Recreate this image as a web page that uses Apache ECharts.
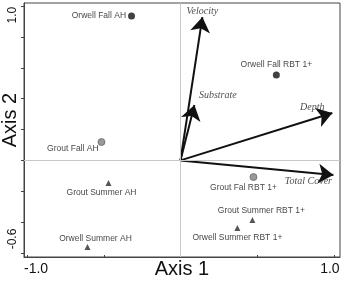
<!DOCTYPE html>
<html>
<head>
<meta charset="utf-8">
<script src="https://cdn.jsdelivr.net/npm/echarts@6/dist/echarts.min.js"></script>
<style>
html,body{margin:0;padding:0;background:#fff;}
#chart{width:344px;height:281px;}
</style>
</head>
<body>
<div id="chart"></div>
<script>
// ---- data ----
const siteNames = ['Orwell Fall AH', 'Orwell Fall RBT 1+', 'Grout Fall AH', 'Grout Fal RBT 1+',
                   'Grout Summer AH', 'Orwell Summer AH', 'Grout Summer RBT 1+', 'Orwell Summer RBT 1+'];
const siteGroup = ['orwellFall', 'orwellFall', 'groutFall', 'groutFall',
                   'summer', 'summer', 'summer', 'summer'];
const siteAxis1 = [-0.319, 0.625, -0.515, 0.476, -0.469, -0.606, 0.469, 0.371];
const siteAxis2 = [0.935, 0.553, 0.119, -0.108, -0.146, -0.561, -0.386, -0.438];

const vectorNames = ['Velocity', 'Substrate', 'Depth', 'Total Cover'];
const vectorAxis1 = [0.143, 0.091, 0.990, 0.997];
const vectorAxis2 = [0.929, 0.359, 0.307, -0.095];

const xTicks = [-1.0, -0.5, 0, 0.5, 1.0];
const xTickLabels = [-1.0, 1.0];
const yTicks = [-0.6, -0.4, -0.2, 0, 0.2, 0.4, 0.6, 0.8, 1.0];
const yTickLabels = [-0.6, 1.0];

// ---- label placement (layout only) ----
const siteLabelLayout = {
  'Orwell Fall AH': {position: 'left', distance: 2, offset: [0, 0]},
  'Orwell Fall RBT 1+': {position: 'top', distance: 2, offset: [0, 0]},
  'Grout Fall AH': {position: 'left', distance: -1, offset: [0, 7]},
  'Grout Fal RBT 1+': {position: 'bottom', distance: 2, offset: [-10, 0]},
  'Grout Summer AH': {position: 'bottom', distance: 2, offset: [-7, 0]},
  'Orwell Summer AH': {position: 'top', distance: 1, offset: [8, 0]},
  'Grout Summer RBT 1+': {position: 'top', distance: 2, offset: [9, 0]},
  'Orwell Summer RBT 1+': {position: 'bottom', distance: 2, offset: [0, 0]}
};
const vectorLabelLayout = {
  'Velocity': {position: 'top', distance: 0, offset: [0, 0]},
  'Substrate': {position: 'right', distance: 4, offset: [0, -10]},
  'Depth': {position: 'top', distance: 0, offset: [-20, 0]},
  'Total Cover': {position: 'bottom', distance: 1, offset: [-25, 0]}
};

function siteData(group) {
  const out = [];
  siteNames.forEach((n, i) => {
    if (siteGroup[i] !== group) return;
    const l = siteLabelLayout[n];
    out.push({
      name: n,
      value: [siteAxis1[i], siteAxis2[i]],
      label: {show: true, formatter: n, position: l.position, distance: l.distance, offset: l.offset}
    });
  });
  return out;
}

const siteLabelStyle = {color: '#111', fontSize: 8.5, fontFamily: 'Liberation Sans, Arial, sans-serif'};

const chart = echarts.init(document.getElementById('chart'), null, {renderer: 'canvas'});
chart.setOption({
  animation: false,
  backgroundColor: '#fff',
  grid: {left: 24, right: 4, top: 3, bottom: 24, containLabel: false, outerBoundsMode: 'none',
         show: true, borderColor: '#444', borderWidth: 1, backgroundColor: 'transparent'},
  xAxis: {
    type: 'value', min: -1.02, max: 1.04,
    name: 'Axis 1', nameLocation: 'middle', nameGap: 2, nameMoveOverlap: false,
    nameTextStyle: {fontSize: 20, color: '#111', fontFamily: 'Liberation Sans, Arial, sans-serif', verticalAlign: 'top'},
    axisLine: {show: true, onZero: false, lineStyle: {color: '#444', width: 1}},
    axisTick: {show: true, inside: true, length: 2, customValues: xTicks, lineStyle: {color: '#444'}},
    splitLine: {show: false},
    axisLabel: {
      show: true, customValues: xTickLabels, margin: 5,
      formatter: v => v < 0 ? '{l|' + v.toFixed(1) + '}' : '{r|' + v.toFixed(1) + '}',
      rich: {
        l: {fontSize: 14, color: '#111', fontFamily: 'Liberation Sans, Arial, sans-serif', padding: [0, 0, 0, 18]},
        r: {fontSize: 14, color: '#111', fontFamily: 'Liberation Sans, Arial, sans-serif', padding: [0, 8, 0, 0]}
      }
    }
  },
  yAxis: {
    type: 'value', min: -0.626, max: 1.02,
    name: 'Axis 2', nameLocation: 'middle', nameGap: 4, nameMoveOverlap: false,
    nameTextStyle: {fontSize: 20, color: '#111', fontFamily: 'Liberation Sans, Arial, sans-serif', padding: [0, 0, 0, 20]},
    axisLine: {show: true, onZero: false, lineStyle: {color: '#444', width: 1}},
    axisTick: {show: true, inside: false, length: 3, customValues: yTicks, lineStyle: {color: '#444'}},
    splitLine: {show: false},
    axisLabel: {
      show: true, customValues: yTickLabels, rotate: 90, margin: 5,
      formatter: v => v < 0 ? '{b|' + v.toFixed(1) + '}' : '{t|' + v.toFixed(1) + '}',
      rich: {
        t: {fontSize: 12, color: '#111', fontFamily: 'Liberation Sans, Arial, sans-serif', padding: [0, 18, 0, 0]},
        b: {fontSize: 12, color: '#111', fontFamily: 'Liberation Sans, Arial, sans-serif', padding: [0, 0, 0, 28]}
      }
    }
  },
  series: [
    {
      type: 'scatter', symbol: 'circle', symbolSize: 7,
      itemStyle: {color: '#111'},
      label: siteLabelStyle,
      data: siteData('orwellFall'),
      markLine: {
        silent: true, symbol: 'none', label: {show: false},
        lineStyle: {color: '#c8c8c8', type: 'solid', width: 1},
        data: [{xAxis: 0}, {yAxis: 0}]
      },
      z: 3
    },
    {
      type: 'scatter', symbol: 'circle', symbolSize: 7,
      itemStyle: {color: '#808080', borderColor: '#555', borderWidth: 0.8},
      label: siteLabelStyle,
      data: siteData('groutFall'),
      z: 3
    },
    {
      type: 'scatter', symbol: 'triangle', symbolSize: 6,
      itemStyle: {color: '#2a2a2a'},
      label: siteLabelStyle,
      data: siteData('summer'),
      z: 3
    },
    {
      type: 'lines', coordinateSystem: 'cartesian2d',
      symbol: ['none', 'arrow'], symbolSize: 15,
      lineStyle: {color: '#111', width: 2, opacity: 1},
      data: vectorNames.map((n, i) => ({coords: [[0, 0], [vectorAxis1[i], vectorAxis2[i]]]})),
      z: 4
    },
    {
      type: 'scatter', symbol: 'circle', symbolSize: 1,
      itemStyle: {color: 'rgba(0,0,0,0)'},
      label: {show: true, color: '#222', fontSize: 10, fontStyle: 'italic', fontFamily: 'Liberation Serif, Times New Roman, serif'},
      data: vectorNames.map((n, i) => {
        const l = vectorLabelLayout[n];
        return {
          name: n, value: [vectorAxis1[i], vectorAxis2[i]],
          label: {show: true, formatter: n, position: l.position, distance: l.distance, offset: l.offset}
        };
      }),
      z: 5
    }
  ]
});
</script>
</body>
</html>
